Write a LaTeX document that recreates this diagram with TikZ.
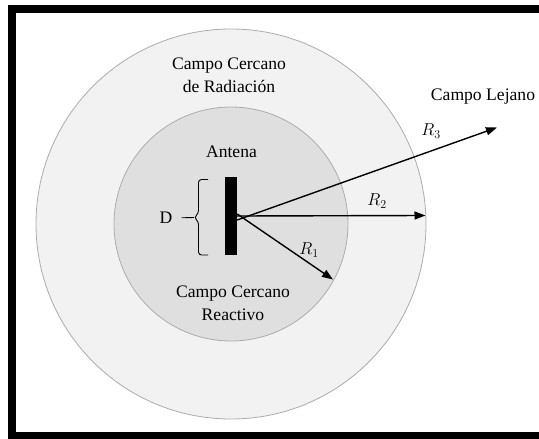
\documentclass[tikz,border=0pt]{standalone}
\usepackage{fontspec}
\setmainfont{Liberation Serif}
\usetikzlibrary{arrows.meta}

\begin{document}
\begin{tikzpicture}[x=1pt,y=-1pt]
  \tikzset{ZoneStyle/.style = {shape=circle,draw=gray!65,line width=0.8pt,inner sep=0pt},
           LabelStyle/.style = {align=center,inner sep=0pt,font=\fontsize{17.6}{22.7}\selectfont},
           RayStyle/.style = {line width=1.4pt,-{Triangle[length=11pt,width=8pt]}}}
\useasboundingbox (0,0) rectangle (539,439);
\fill[white] (0,0) rectangle (539,439);
\draw[line width=8pt] (560,9) -- (12,9) -- (12,436) -- (560,436);
%
\node[ZoneStyle,fill=gray!10,minimum size=390pt] (far) at (231,224) {};
\node[ZoneStyle,fill=gray!25,minimum size=234pt] (near) at (231,224) {};
\node[LabelStyle] (radiative) at (229,75) {Campo Cercano\\de Radiación};
\node[LabelStyle] (reactive) at (233,303) {Campo Cercano\\Reactivo};
\node[LabelStyle] (farlabel) at (483,97) {Campo Lejano};
\node[LabelStyle] (antlabel) at (231.5,152) {Antena};
\node[shape=rectangle,fill=black,minimum width=12pt,minimum height=78pt,inner sep=0pt] (ant) at (231,216) {};
\node[LabelStyle] (D) at (166,218) {D};
%
\coordinate (bracetip) at (194,217.5);
\draw[line width=0.9pt,rounded corners=3pt] (208,179.5) -- (198.5,179.5) -- (198.5,213.5) -- (bracetip) -- (198.5,221.5) -- (198.5,255) -- (208,255);
\draw[line width=0.9pt,shorten <=9pt] (D.east) -- (bracetip);
%
\coordinate (tip1) at (333,279.5);
\coordinate (tip2) at (425.5,215.5);
\coordinate (tip3) at (497,127.5);
\draw[RayStyle] ([yshift=2pt]ant.east) -- (tip1);
\draw[RayStyle] (ant.east) -- (tip2);
\draw[RayStyle] ([yshift=-4pt]ant.east) -- (tip3);
\node[LabelStyle] (r1) at (309,250) {$R_1$};
\node[LabelStyle] (r2) at (377,201) {$R_2$};
\node[LabelStyle] (r3) at (431,131) {$R_3$};
\end{tikzpicture}
\end{document}
